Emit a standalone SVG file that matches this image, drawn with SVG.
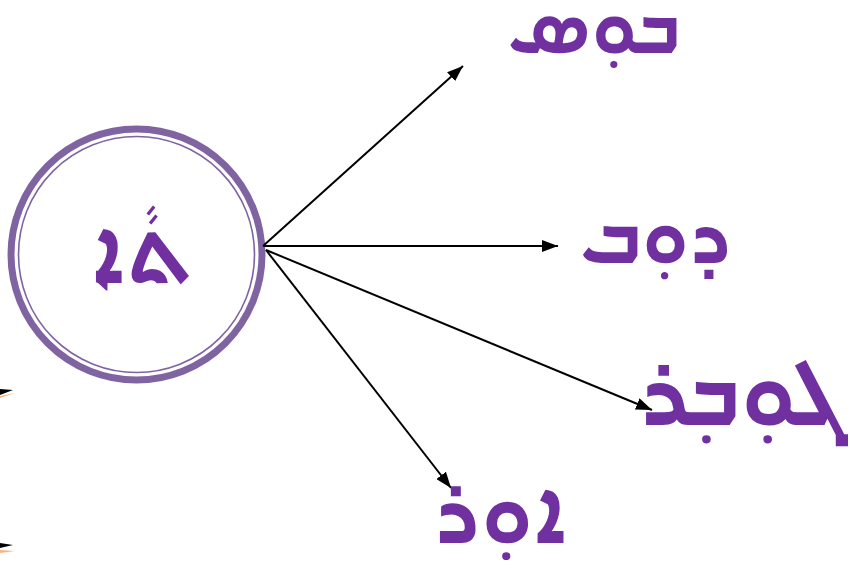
<svg xmlns="http://www.w3.org/2000/svg" width="850" height="573" viewBox="0 0 850 573">
<defs>
<marker id="ah" viewBox="0 0 16 12" refX="16" refY="6" markerWidth="16" markerHeight="12" orient="auto" markerUnits="userSpaceOnUse">
<path d="M0,0 L16,6 L0,12 z" fill="#000"/>
</marker>
</defs>
<style>
.w{font-family:"Noto Sans Syriac Eastern","Noto Sans Syriac",sans-serif;fill:#7030A0;font-weight:bold;text-anchor:middle}
.c{fill:none;stroke:#8064A2}
.a{stroke:#000;stroke-width:2;fill:none;marker-end:url(#ah)}
</style>
<rect width="850" height="573" fill="#fff"/>
<g id="edge-marks">
<polygon points="0,389 13,390 0,395" fill="#000"/>
<polygon points="0,396 15,393 0,398" fill="#F9B47E"/>
<polygon points="0,543 13,545 0,548" fill="#000"/>
<polygon points="0,550 15,551 0,553" fill="#F9B47E"/>
</g>
<g id="center">
<circle class="c" cx="136.5" cy="254.5" r="125.5" stroke-width="7"/>
<circle class="c" cx="136.5" cy="254.5" r="118" stroke-width="1.6"/>
<text class="w" x="142" y="283" font-size="86">ܬܵܐ</text>
</g>
<g id="connectors">
<line class="a" x1="263" y1="246" x2="463" y2="66"/>
<line class="a" x1="263" y1="246" x2="558" y2="246"/>
<line class="a" x1="266" y1="250" x2="652" y2="410"/>
<line class="a" x1="266" y1="250" x2="451" y2="488"/>
</g>
<g id="w1"><text class="w" x="594" y="53" font-size="75">ܒܘ݂ܣ</text></g>
<g id="w2"><text class="w" x="656" y="263" font-size="77">ܕܘ݂ܒ</text></g>
<g id="w3"><text class="w" x="741" y="425" font-size="90">ܓܘ݂ܒ݂ܪ</text></g>
<g id="w4"><text class="w" x="501" y="543" font-size="85">ܐܘ݂ܪ</text></g>
</svg>
